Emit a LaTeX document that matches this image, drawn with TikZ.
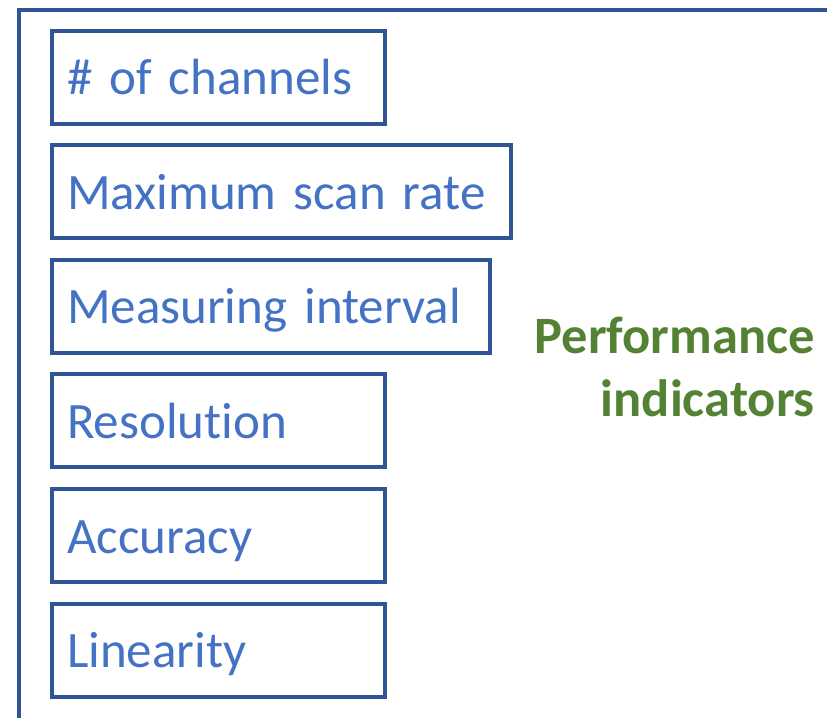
\documentclass[tikz,border=0pt]{standalone}
\usepackage{fontspec}
\setmainfont[Ligatures=NoCommon]{Carlito}
\usetikzlibrary{positioning}
\definecolor{boxblue}{HTML}{2F5597}
\definecolor{textblue}{HTML}{4472C4}
\definecolor{perfgreen}{HTML}{548235}
\begin{document}
\begin{tikzpicture}[x=1pt, y=1pt,
  indicator/.style={draw=boxblue, line width=4pt, rectangle, minimum height=93pt,
    inner xsep=15pt, inner ysep=0pt, text width=#1, align=left,
    text height=45pt, text depth=10pt, text=textblue,
    font=\fontsize{51}{61}\selectfont},
  gap/.style={below=17.5pt of #1.south west, anchor=north west}]
  \useasboundingbox (0,0) rectangle (827,718);

  % outer frame
  \coordinate (frame-b) at (18.5,0);
  \coordinate (frame-c) at (18.5,708);
  \coordinate (frame-r) at (827,708);
  \draw[boxblue, line width=4pt] (frame-b) -- (frame-c) -- (frame-r);

  % indicator boxes
  \node[indicator=303pt, anchor=west] (chan) at (50,640.5) {\# of channels};
  \node[indicator=429pt, gap=chan] (rate) {Maximum scan rate};
  \node[indicator=408pt, gap=rate] (interval) {Measuring interval};
  \node[indicator=303pt, gap=interval] (res) {Resolution};
  \node[indicator=303pt, gap=res] (acc) {Accuracy};
  \node[indicator=303pt, gap=acc] (lin) {Linearity};

  \node[anchor=east, align=right, inner sep=0pt, text=perfgreen,
    font=\bfseries\fontsize{52.5}{63}\selectfont] (perf) at (815,351)
    {Performance\\indicators};
\end{tikzpicture}
\end{document}
